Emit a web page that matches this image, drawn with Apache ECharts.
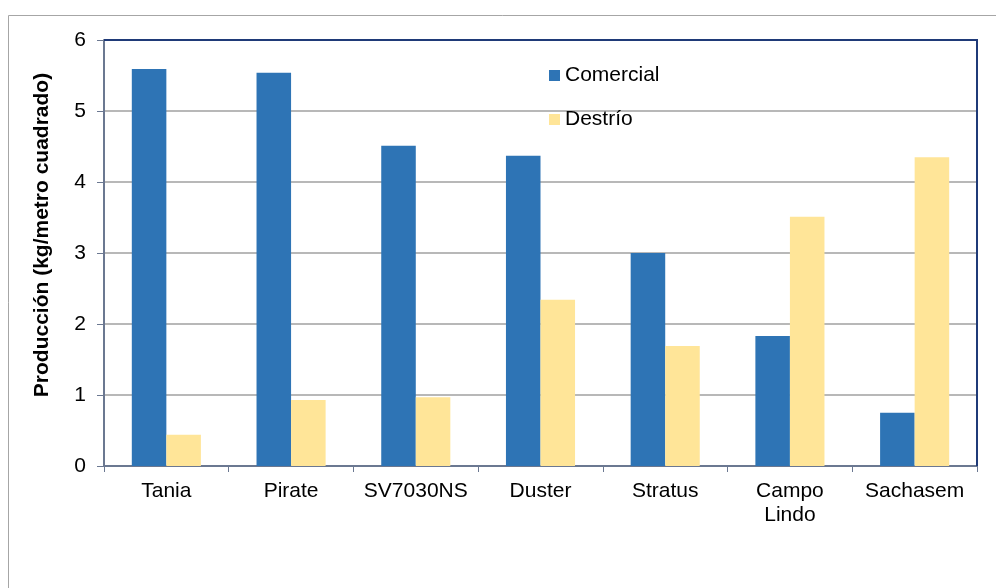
<!DOCTYPE html>
<html>
<head>
<meta charset="utf-8">
<script src="https://cdn.jsdelivr.net/npm/echarts@6/dist/echarts.min.js"></script>
<style>
  html, body { margin: 0; padding: 0; background: #fff; }
  #main { width: 996px; height: 588px; }
</style>
</head>
<body>
<div id="main"></div>
<script>
var categories = ['Tania', 'Pirate', 'SV7030NS', 'Duster', 'Stratus', 'Campo\nLindo', 'Sachasem'];
var comercial = [5.59, 5.54, 4.51, 4.37, 3.0, 1.83, 0.75];
var destrio = [0.44, 0.93, 0.97, 2.34, 1.69, 3.51, 4.35];
var yTicks = [0, 1, 2, 3, 4, 5, 6];

var myChart = echarts.init(document.getElementById('main'));

var option = {
    animation: false,
    textStyle: { fontFamily: 'Liberation Sans, Arial, sans-serif' },
    graphic: [
        {
            type: 'rect',
            shape: { x: 8.5, y: 15.5, width: 1100, height: 700 },
            style: { fill: 'none', stroke: '#a6a6a6', lineWidth: 1 },
            z: -1
        },
        {
            // dark frame top/right
            type: 'polyline',
            shape: { points: [[104, 40], [977, 40], [977, 466]] },
            style: { stroke: '#1f3a78', lineWidth: 2, fill: 'none' },
            z: 10
        }
    ],
    legend: {
        orient: 'vertical',
        left: 544,
        top: 60,
        itemWidth: 11,
        itemHeight: 11,
        itemGap: 23,
        icon: 'rect',
        textStyle: { fontSize: 21, color: '#000', fontFamily: 'Liberation Sans, Arial, sans-serif' },
        data: ['Comercial', 'Destrío']
    },
    grid: {
        left: 104,
        top: 40,
        right: 19,
        bottom: 122,
        containLabel: false
    },
    xAxis: {
        type: 'category',
        data: categories,
        axisLine: { show: true, lineStyle: { color: '#6b7891', width: 2 } },
        axisTick: { show: true, alignWithLabel: false, length: 6, lineStyle: { color: '#6b7891' } },
        axisLabel: {
            color: '#000',
            fontSize: 21,
            margin: 13,
            lineHeight: 24,
            interval: 0
        }
    },
    yAxis: {
        type: 'value',
        min: yTicks[0],
        max: yTicks[yTicks.length - 1],
        interval: 1,
        name: 'Producción (kg/metro cuadrado)',
        nameLocation: 'middle',
        nameGap: 51,
        nameRotate: 90,
        nameTextStyle: { fontSize: 21, fontWeight: 'bold', color: '#000', padding: [0, 0, 0, 36] },
        axisLine: { show: true, lineStyle: { color: '#6b7891', width: 2 } },
        axisTick: { show: true, length: 7, lineStyle: { color: '#6b7891' } },
        axisLabel: { color: '#000', fontSize: 21, margin: 18 },
        splitLine: { show: true, lineStyle: { color: '#a0a0a0', width: 1.5 } }
    },
    series: [
        {
            name: 'Comercial',
            type: 'bar',
            data: comercial,
            barGap: '0%',
            barCategoryGap: '44.6%',
            itemStyle: { color: '#2e74b5' }
        },
        {
            name: 'Destrío',
            type: 'bar',
            data: destrio,
            itemStyle: { color: '#ffe598' }
        }
    ]
};

myChart.setOption(option);
</script>
</body>
</html>
